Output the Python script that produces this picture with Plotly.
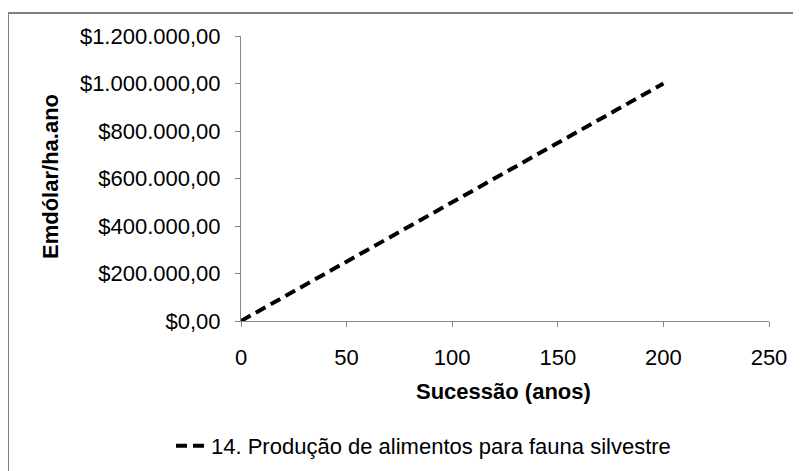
import plotly.graph_objects as go

# Data
anos = [0, 50, 100, 150, 200]
valores = [0, 250000, 500000, 750000, 1000000]
serie_nome = "14. Produção de alimentos para fauna silvestre"

x_ticks = [0, 50, 100, 150, 200, 250]
y_ticks = [0, 200000, 400000, 600000, 800000, 1000000, 1200000]
y_ticktext = ["$0,00", "$200.000,00", "$400.000,00", "$600.000,00",
              "$800.000,00", "$1.000.000,00", "$1.200.000,00"]

x_title = "Sucessão (anos)"
y_title = "Emdólar/ha.ano"

FONT = "Liberation Sans, Arial, sans-serif"
AXIS_COLOR = "#868686"
FS = 22

# page has an 8px body margin; work in page coordinates and shift
OFF = 8
W, H = 801 - OFF, 471 - OFF
L, T = 241 - OFF, 36 - OFF
pw, ph = 528, 285
R = W - L - pw
B = H - T - ph

def px_x(page_x):
    return (page_x - OFF - L) / pw

def px_y(page_y):
    return (T + ph - (page_y - OFF)) / ph

fig = go.Figure()
fig.add_trace(go.Scatter(
    x=anos, y=valores, mode="lines", name=serie_nome,
    line=dict(color="black", width=4, dash="11px,6px"),
))

fig.update_layout(
    width=W, height=H,
    margin=dict(l=L, r=R, t=T, b=B, autoexpand=False),
    paper_bgcolor="white", plot_bgcolor="white",
    font=dict(family=FONT, size=FS, color="black"),
    showlegend=True,
    legend=dict(
        x=px_x(171), y=px_y(446), xanchor="left", yanchor="middle",
        orientation="h", font=dict(size=FS, family=FONT),
        bgcolor="rgba(0,0,0,0)",
    ),
    xaxis=dict(
        range=[0, 250], tickvals=x_ticks, ticktext=[str(v) for v in x_ticks],
        showgrid=False, zeroline=False, showline=True, linecolor=AXIS_COLOR,
        linewidth=1, ticks="outside", ticklen=5, tickcolor=AXIS_COLOR,
        tickfont=dict(size=FS, family=FONT), ticklabelstandoff=12,
        fixedrange=True, automargin=False,
    ),
    yaxis=dict(
        range=[0, 1200000], tickvals=y_ticks, ticktext=y_ticktext,
        showgrid=False, zeroline=False, showline=True, linecolor=AXIS_COLOR,
        linewidth=1, ticks="outside", ticklen=5, tickcolor=AXIS_COLOR,
        tickfont=dict(size=FS, family=FONT), ticklabelstandoff=10,
        fixedrange=True, automargin=False,
    ),
    shapes=[dict(
        type="rect", xref="paper", yref="paper",
        x0=px_x(8), x1=px_x(815), y0=px_y(490), y1=px_y(13),
        line=dict(color="#808080", width=2), fillcolor="rgba(0,0,0,0)",
        layer="below",
    )],
    annotations=[
        dict(text="<b>" + x_title + "</b>", xref="paper", yref="paper",
             x=px_x(503), y=px_y(392), xanchor="center", yanchor="middle",
             showarrow=False, font=dict(size=FS, family=FONT)),
        dict(text="<b>" + y_title + "</b>", xref="paper", yref="paper",
             x=px_x(50), y=px_y(177), xanchor="center", yanchor="middle",
             textangle=-90, showarrow=False, font=dict(size=FS, family=FONT)),
    ],
)

fig.write_html("out.html")
